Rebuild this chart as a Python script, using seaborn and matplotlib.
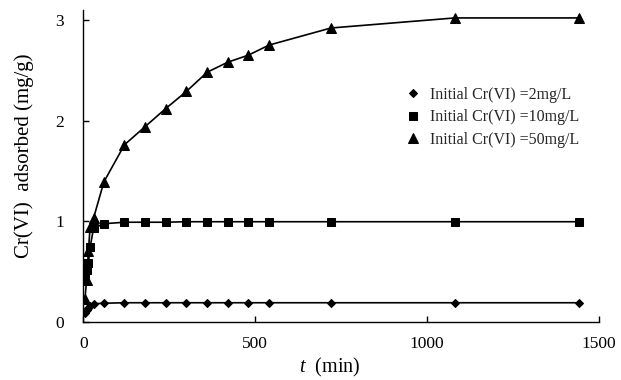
import matplotlib
matplotlib.use("Agg")
import matplotlib.pyplot as plt
import seaborn as sns
import pandas as pd

time_min = [5, 10, 15, 20, 30, 60, 120, 180, 240, 300, 360, 420, 480, 540, 720, 1080, 1440]
q_2mg = [0.09, 0.12, 0.14, 0.16, 0.18, 0.185, 0.19, 0.19, 0.19, 0.19, 0.19, 0.19, 0.19, 0.19, 0.19, 0.19, 0.19]
q_10mg = [0.44, 0.52, 0.58, 0.74, 0.93, 0.975, 0.99, 0.99, 0.99, 0.995, 0.995, 0.995, 0.995, 0.995, 0.995, 0.995, 0.995]
q_50mg = [0.23, 0.42, 0.70, 0.94, 1.03, 1.39, 1.76, 1.94, 2.12, 2.29, 2.48, 2.58, 2.65, 2.75, 2.92, 3.02, 3.02]
labels = ["Initial Cr(VI) =2mg/L", "Initial Cr(VI) =10mg/L", "Initial Cr(VI) =50mg/L"]
markers = ["D", "s", "^"]
marker_sizes = [4, 6, 7]
x_ticks = [0, 500, 1000, 1500]
y_ticks = [0, 1, 2, 3]

sns.set_theme(style="ticks")
plt.rcParams["font.family"] = ["Liberation Serif", "DejaVu Serif"]
plt.rcParams["mathtext.fontset"] = "custom"
plt.rcParams["mathtext.it"] = "Liberation Serif:italic"
plt.rcParams["mathtext.rm"] = "Liberation Serif"

fig = plt.figure(figsize=(6.21, 3.80), dpi=100)
ax = fig.add_axes([0.134, 0.153, 0.831, 0.821])

for vals, lab, mk, ms in zip([q_2mg, q_10mg, q_50mg], labels, markers, marker_sizes):
    df = pd.DataFrame({"t": time_min, "q": vals})
    sns.lineplot(data=df, x="t", y="q", ax=ax, color="black", linewidth=1.2,
                 marker=mk, markersize=ms, markeredgecolor="black",
                 markerfacecolor="black", label=lab)

ax.set_xlim(0, 1500)
ax.set_ylim(0, 3.1)
ax.set_xticks(x_ticks)
ax.set_yticks(y_ticks)
ax.tick_params(direction="in", length=4, width=1, labelsize=12.5, colors="black")
ax.tick_params(axis="x", pad=10)
ax.tick_params(axis="y", pad=14)
for s in ["top", "right"]:
    ax.spines[s].set_visible(False)
for s in ["left", "bottom"]:
    ax.spines[s].set_color("black")
    ax.spines[s].set_linewidth(1.0)

ax.set_xlabel(r"$t$  (min)", fontsize=14.5, color="black")
ax.xaxis.set_label_coords(0.477, -0.11)
ax.set_ylabel("Cr(VI)  adsorbed (mg/g)", fontsize=15, color="black")
ax.yaxis.set_label_coords(-0.095, 0.532)

leg = ax.legend(loc="upper left", bbox_to_anchor=(0.595, 0.80), frameon=False,
                fontsize=11.5, handlelength=1.0, handletextpad=0.6, labelspacing=0.42)
for h in leg.legend_handles:
    h.set_linestyle("None")

fig.savefig("out.png", dpi=100)
